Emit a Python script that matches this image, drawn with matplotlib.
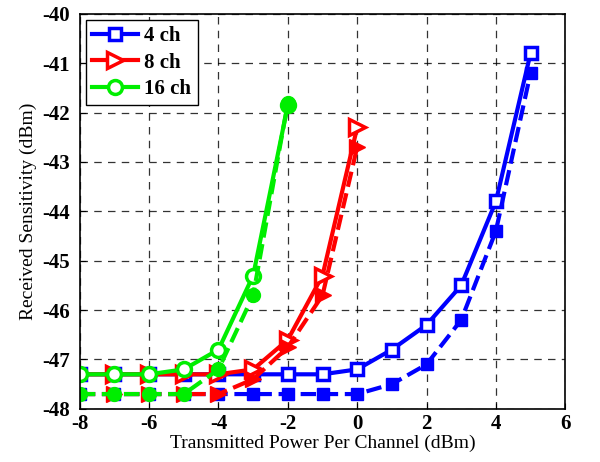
import numpy as np
import matplotlib.pyplot as plt

plt.rcParams['font.family'] = ['Liberation Serif', 'DejaVu Serif']
plt.rcParams['axes.unicode_minus'] = False

# transmitted power per channel (dBm)
x_4ch = [-8, -7, -6, -5, -4, -3, -2, -1, 0, 1, 2, 3, 4, 5]
x_8ch = [-8, -7, -6, -5, -4, -3, -2, -1, 0]
x_16ch = [-8, -7, -6, -5, -4, -3, -2]

# received sensitivity (dBm), solid and dashed curves
sens_4ch = [-47.3, -47.3, -47.3, -47.3, -47.3, -47.3, -47.3, -47.3, -47.2, -46.8, -46.3, -45.5, -43.8, -40.8]
sens_4ch_b = [-47.7, -47.7, -47.7, -47.7, -47.7, -47.7, -47.7, -47.7, -47.7, -47.5, -47.1, -46.2, -44.4, -41.2]
sens_8ch = [-47.3, -47.3, -47.3, -47.3, -47.3, -47.2, -46.6, -45.3, -42.3]
sens_8ch_b = [-47.7, -47.7, -47.7, -47.7, -47.7, -47.4, -46.75, -45.7, -42.7]
sens_16ch = [-47.3, -47.3, -47.3, -47.2, -46.8, -45.3, -41.85]
sens_16ch_b = [-47.7, -47.7, -47.7, -47.7, -47.2, -45.7, -41.8]

fig = plt.figure(figsize=(6, 4.62), dpi=100)
ax = fig.add_axes([0.133, 0.115, 0.809, 0.855])

lw = 3
ms = 9
green = '#00ee00'
ax.plot(x_4ch, sens_4ch, '-', color='blue', lw=lw, marker='s', ms=ms,
        mfc='white', mec='blue', mew=2.5, label='4 ch')
ax.plot(x_4ch, sens_4ch_b, '--', color='blue', lw=lw, marker='s', ms=ms,
        mfc='blue', mec='blue')
ax.plot(x_8ch, sens_8ch, '-', color='red', lw=lw, marker='>', ms=ms + 3,
        mfc='white', mec='red', mew=2.5, label='8 ch')
ax.plot(x_8ch, sens_8ch_b, '--', color='red', lw=lw, marker='>', ms=ms + 3,
        mfc='red', mec='red')
ax.plot(x_16ch, sens_16ch, '-', color=green, lw=lw, marker='o', ms=ms + 1,
        mfc='white', mec=green, mew=2.5, label='16 ch')
ax.plot(x_16ch, sens_16ch_b, '--', color=green, lw=lw, marker='o', ms=ms + 1,
        mfc=green, mec=green)

ax.set_xlim(-8, 6)
ax.set_ylim(-48, -40)
ax.set_xticks(np.arange(-8, 7, 2))
ax.set_yticks(np.arange(-48, -39, 1))
ax.grid(True, color='black', linestyle=(0, (6, 5)), linewidth=0.9, alpha=0.8)
ax.tick_params(direction='in', length=4, labelsize=15)
ax.tick_params(axis='x', pad=4)
ax.tick_params(axis='y', pad=7)
for lbl in ax.get_xticklabels() + ax.get_yticklabels():
    lbl.set_fontweight('bold')
for s in ax.spines.values():
    s.set_linewidth(1.2)

ax.set_xlabel('Transmitted Power Per Channel (dBm)', fontsize=14, labelpad=0)
ax.set_ylabel('Received Sensitivity (dBm)', fontsize=14, labelpad=4)

leg = ax.legend(loc='upper left', prop={'weight': 'bold', 'size': 15},
                fancybox=False, edgecolor='black', framealpha=1,
                handlelength=2.2, borderpad=0.3, labelspacing=0.3,
                handletextpad=0.3, borderaxespad=0.3)
leg.get_frame().set_linewidth(1)

fig.savefig('out.png', dpi=100)
